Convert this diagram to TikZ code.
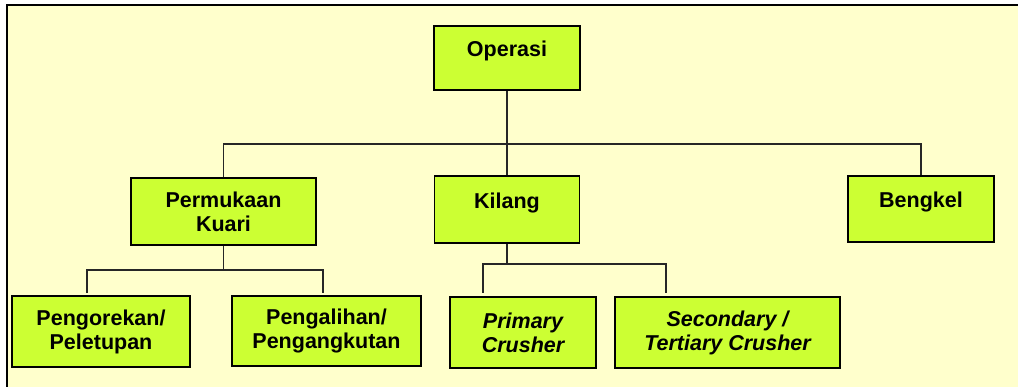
\documentclass[tikz,border=0pt]{standalone}
\usepackage{fontspec}
\setmainfont{Liberation Sans}
\usepackage{tikz}
\usepackage{xcolor}
\usetikzlibrary{positioning, calc}

\definecolor{paper}{HTML}{FFFFCC}
\definecolor{lime}{HTML}{CCFF33}

\begin{document}
\begin{tikzpicture}[x=1pt, y=-1pt,
		unit/.style={draw=black, line width=1.8pt, fill=lime, inner sep=0pt, align=center,
			font=\fontsize{21.5}{24}\selectfont\bfseries},
		oneline/.style={text height=15pt, text depth=17pt},
		link/.style={line width=1.4pt, draw=black!85}]
		\useasboundingbox (0,0) rectangle (1018,387);
		\fill[white] (0,0) rectangle (1018,387);
		\fill[paper] (7,5) rectangle (1018,387);
		\draw[line width=2.4pt] (7,387) -- (7,5) -- (1018,5);

		\node[unit, oneline, minimum width=146pt, minimum height=64pt] (ops) at (507,58) {Operasi};
		\node[unit, minimum width=185pt, minimum height=67pt] (kuari) at (223.5,211.5) {Permukaan\\Kuari};
		\node[unit, oneline, minimum width=145pt, minimum height=67pt] (kilang) at (507,209.5) {Kilang};
		\node[unit, oneline, minimum width=146pt, minimum height=66pt] (bengkel) at (921,209) {Bengkel};
		\node[unit, minimum width=178pt, minimum height=71pt] (korek) at (101,331.5) {Pengorekan/\\Peletupan};
		\node[unit, minimum width=189pt, minimum height=70pt] (alih) at (326.5,331) {Pengalihan/\\Pengangkutan};
		\node[unit, minimum width=146pt, minimum height=71pt] (primary) at (523,332.5) {\itshape Primary\\\itshape Crusher};
		\node[unit, minimum width=225pt, minimum height=71pt] (secondary) at (727.5,332.5) {\itshape Secondary /\\\itshape Tertiary Crusher};

		% Branch ends
		\coordinate (korekTop) at (87,293);
		\coordinate (alihTop) at (323,293);
		\coordinate (primaryTop) at (483,293);
		\coordinate (secondaryTop) at (666,293);

		% Level 1
		\draw[link] (ops.south) -- (kilang.north);
		\draw[link] (kuari.north) -- ++(0,-33) -| (bengkel.north);

		% Level 2
		\draw[link] (kuari.south) -- ++(0,24) -| (korekTop);
		\draw[link] (kuari.south) ++(0,24) -| (alihTop);
		\draw[link] (kilang.south) -- ++(0,20) -| (primaryTop);
		\draw[link] (kilang.south) ++(0,20) -| (secondaryTop);
	\end{tikzpicture}
\end{document}
